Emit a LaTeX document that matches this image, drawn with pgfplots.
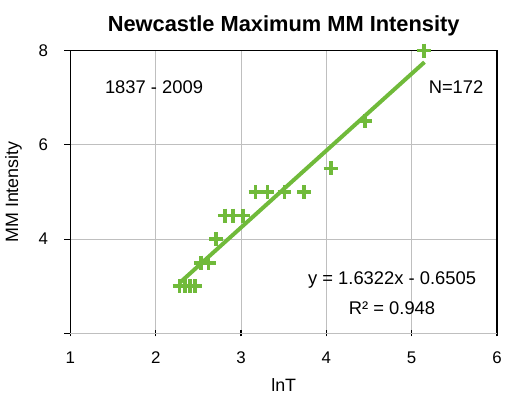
\documentclass[border=0pt]{standalone}
\usepackage{pgfplots}
\pgfplotsset{compat=1.18}
\usepackage{fontspec}
\setmainfont{Liberation Sans}
\definecolor{trendgreen}{RGB}{112,186,58}
\begin{document}
\begin{tikzpicture}
\begin{axis}[
    scale only axis,
    width=430pt, height=285pt,
    xmin=1, xmax=6,
    ymin=2, ymax=8,
    xtick={1,2,3,4,5,6},
    ytick={4,6,8},
    extra y ticks={2},
    extra y tick labels={},
    xtick pos=bottom,
    ytick pos=left,
    grid=major,
    grid style={gray!50, line width=0.9pt},
    axis line style={line width=1.3pt},
    tick style={black, line width=1.1pt},
    xtick align=center,
    ytick align=outside,
    major tick length=6pt,
    tick label style={font=\fontsize{17}{19}\selectfont},
    xticklabel style={yshift=-12pt},
    yticklabel style={xshift=-13pt},
    /pgf/number format/assume math mode=true,
    title={\textbf{Newcastle Maximum MM Intensity}},
    title style={font=\fontsize{22}{24}\selectfont, yshift=5pt},
    xlabel={lnT},
    ylabel={MM Intensity},
    label style={font=\fontsize{18}{20}\selectfont},
    xlabel style={yshift=-8pt},
    ylabel style={yshift=-2pt},
    clip=false,
]
\addplot[trendgreen, line width=4pt, forget plot]
    coordinates {(2.28, 3.071) (5.15, 7.755)};
\addplot[only marks, mark=+, mark size=7pt, trendgreen,
    mark options={line width=3.8pt}]
    coordinates {
    (2.28, 3) (2.34, 3) (2.40, 3) (2.46, 3)
    (2.53, 3.5) (2.62, 3.5)
    (2.71, 4)
    (2.81, 4.5) (2.91, 4.5) (3.02, 4.5)
    (3.17, 5) (3.31, 5) (3.51, 5) (3.74, 5)
    (4.05, 5.5)
    (4.45, 6.5)
    (5.14, 8)
    };
\node[font=\fontsize{18.5}{20}\selectfont] at (axis cs:1.98,7.22) {1837 - 2009};
\node[font=\fontsize{18.5}{20}\selectfont] at (axis cs:5.52,7.22) {N=172};
\node[font=\fontsize{18.5}{20}\selectfont] at (axis cs:4.77,3.14) {y = 1.6322x - 0.6505};
\node[font=\fontsize{18.5}{20}\selectfont] at (axis cs:4.77,2.54) {R² = 0.948};
\path (axis description cs:-0.165,-0.235) rectangle (axis description cs:1.0093,1.179);
\end{axis}
\end{tikzpicture}
\end{document}
